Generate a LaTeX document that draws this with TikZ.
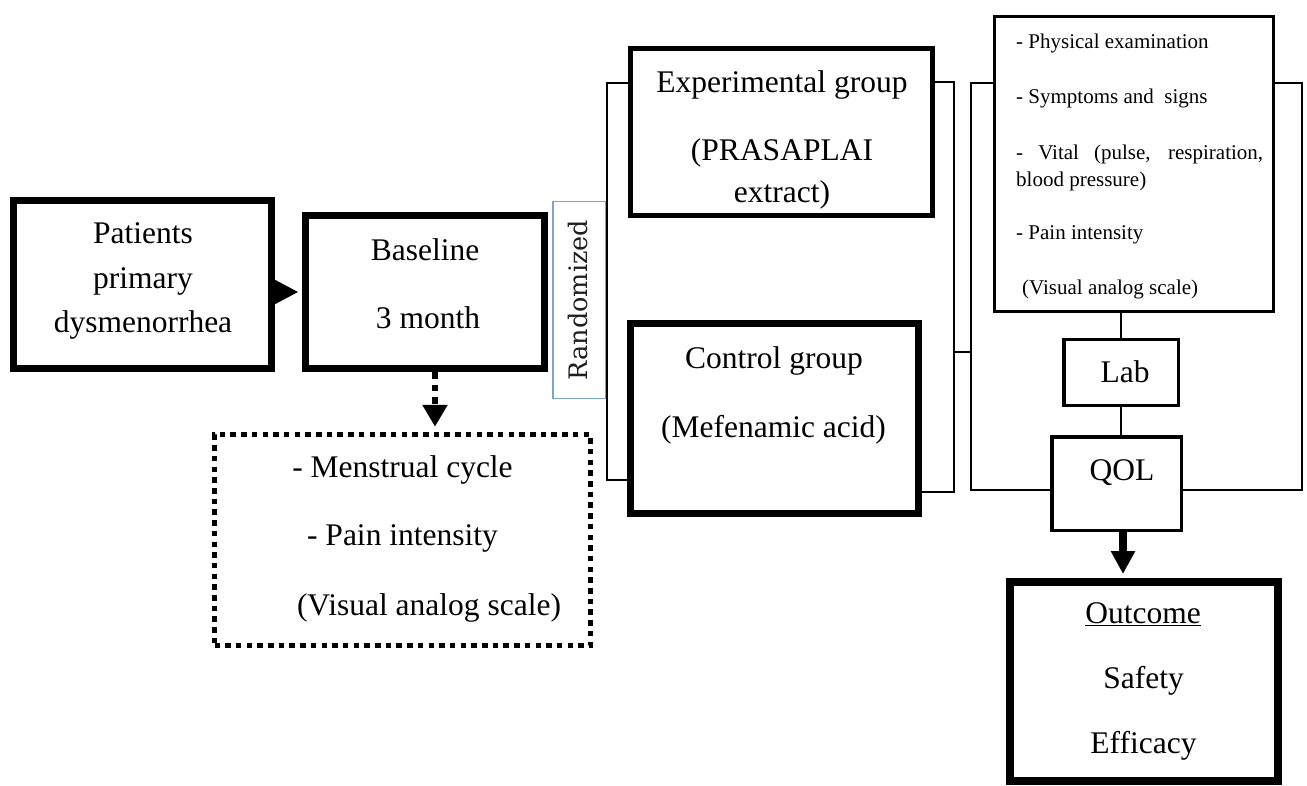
\documentclass[tikz,border=0pt]{standalone}
\usepackage{fontspec}
\setmainfont{Liberation Serif}
\newfontfamily\randfont{DejaVu Serif}
\usetikzlibrary{arrows.meta}
\definecolor{randblue}{RGB}{125,162,212}
\begin{document}
\begin{tikzpicture}[x=1pt,y=-1pt,
  box/.style={draw, inner sep=0pt, fill=white},
  txt/.style={font=\fontsize{31.5}{38}\selectfont, inner sep=0pt, text height=20.8pt, text depth=0pt},
  small/.style={font=\fontsize{21}{25}\selectfont, inner sep=0pt, anchor=west, text height=13.9pt, text depth=0pt},
  wire/.style={line width=2pt}]
\useasboundingbox (0,0) rectangle (1307,786);

% boxes
\node[box, line width=7pt, minimum width=258pt, minimum height=168pt] (pat) at (142.5,284.5) {};
\node[box, line width=7pt, minimum width=239pt, minimum height=153pt] (base) at (425,292) {};
\node[box, draw=randblue, line width=1.5pt, minimum width=52.5pt, minimum height=196.5pt] (rand) at (579,300) {};
\node[rotate=90, inner sep=0pt, text=black!88, font=\randfont\fontsize{25.5}{30}\selectfont] (randtxt) at (578,300) {Randomized};
\node[box, line width=5pt, minimum width=302pt, minimum height=167pt] (exp) at (781.5,132) {};
\node[box, line width=7pt, minimum width=288pt, minimum height=190pt] (ctrl) at (774.5,418.5) {};
\node[box, line width=3pt, minimum width=279pt, minimum height=295pt] (assess) at (1134,164) {};
\node[box, line width=3.5pt, minimum width=114.5pt, minimum height=65.5pt] (lab) at (1121,372.5) {};
\node[box, line width=3.5pt, minimum width=129.5pt, minimum height=93.5pt] (qol) at (1116.5,483.5) {};
\node[box, line width=8pt, minimum width=268pt, minimum height=199pt] (out) at (1144,681.5) {};
\node[box, line width=5.5pt, dash pattern=on 5.5pt off 5.2pt, minimum width=376pt, minimum height=211pt] (dot) at (402.5,540) {};

% texts
\node[txt] (t1) at (143,233) {Patients};
\node[txt] (t2) at (143,278) {primary};
\node[txt] (t3) at (143,322) {dysmenorrhea};
\node[txt] (t4) at (425,250) {Baseline};
\node[txt] (t5) at (428,318) {3 month};
\node[txt] (t6) at (782,82) {Experimental group};
\node[txt] (t7) at (782,150) {(PRASAPLAI};
\node[txt] (t8) at (782,192) {extract)};
\node[txt] (t9) at (774,358) {Control group};
\node[txt] (t10) at (773.5,427) {(Mefenamic acid)};
\node[txt] (t11) at (402.5,467) {- Menstrual cycle};
\node[txt] (t12) at (402.5,535) {- Pain intensity};
\node[txt] (t13) at (429,605) {(Visual analog scale)};
\node[txt] (t14) at (1125,372) {Lab};
\node[txt] (t15) at (1122,470) {QOL};
\node[txt] (t16) at (1143,613) {\underline{Outcome}};
\node[txt] (t17) at (1143.5,678) {Safety};
\node[txt] (t18) at (1143.5,743) {Efficacy};

\node[small] (a1) at (1016,42) {- Physical examination};
\node[small] (a2) at (1016,97) {- Symptoms and\ \ signs};
\node[small] (a3) at (1016,153) {\makebox[247pt][s]{- Vital (pulse, respiration,}};
\node[small] (a4) at (1016,180) {blood pressure)};
\node[small] (a5) at (1016,233) {- Pain intensity};
\node[small] (a6) at (1022,288) {(Visual analog scale)};

% brackets
\coordinate (lb1) at (607,83);
\coordinate (lb2) at (607,480);
\draw[wire] (exp.west |- lb1) -- (lb1) -- (lb2) -- (ctrl.west |- lb2);
\coordinate (rb1) at (954,82);
\coordinate (rb2) at (954,492);
\coordinate (rm) at (954,352);
\coordinate (cm) at (971,352);
\draw[wire] (exp.east |- rb1) -- (rb1) -- (rb2) -- (ctrl.east |- rb2);
\draw[wire] (rm) -- (cm);
\coordinate (cb1) at (971,83);
\coordinate (cb2) at (971,490);
\draw[wire] (assess.west |- cb1) -- (cb1) -- (cb2) -- (qol.west |- cb2);
\coordinate (ab1) at (1302,83);
\coordinate (ab2) at (1302,490);
\draw[wire] (assess.east |- ab1) -- (ab1) -- (ab2) -- (qol.east |- ab2);
\draw[wire] (lab.north) -- (lab.north |- assess.south);
\draw[wire] (lab.south) -- (lab.south |- qol.north);

% arrows
\draw[line width=6pt, -{Triangle[length=24pt,width=23pt]}, shorten >=3.5pt] (pat.east |- base.west) -- (base.west);
\coordinate (dx) at (435,0);
\draw[line width=6.5pt, dash pattern=on 6.5pt off 6pt, -{Triangle[length=22pt,width=24pt]}, shorten >=5pt] (base.south -| dx) -- (dot.north -| dx);
\draw[line width=8pt, -{Triangle[length=23pt,width=23pt]}, shorten >=4pt] ([xshift=6.5pt]qol.south) -- ([xshift=6.5pt]qol.south |- out.north);
\end{tikzpicture}
\end{document}
